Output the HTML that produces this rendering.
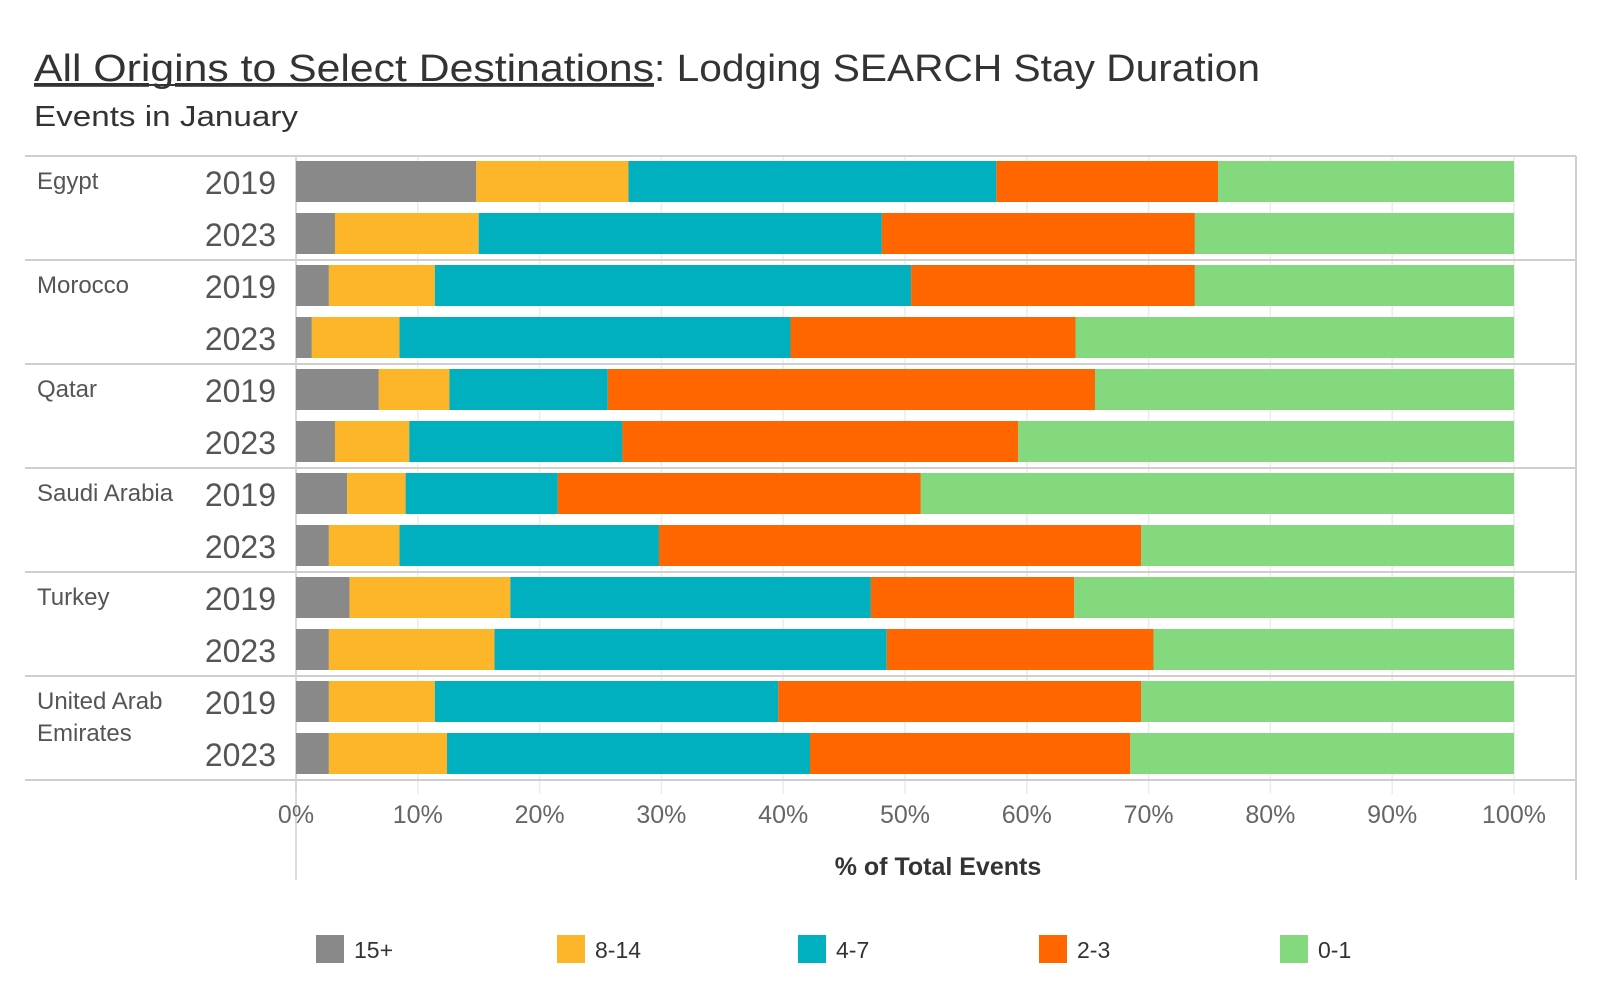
<!DOCTYPE html>
<html><head><meta charset="utf-8"><style>
body{margin:0;background:#fff;}
svg{display:block;font-family:"Liberation Sans",sans-serif;}
</style></head><body>
<svg id="chart" width="1600" height="1000">
<text x="34" y="81" font-size="38" fill="#333"><tspan text-decoration="underline" textLength="620" lengthAdjust="spacingAndGlyphs">All Origins to Select Destinations</tspan><tspan textLength="606" lengthAdjust="spacingAndGlyphs">: Lodging SEARCH Stay Duration</tspan></text>
<line x1="34" y1="85" x2="654" y2="85" stroke="#333" stroke-width="2"/>
<text x="34" y="126" font-size="29" fill="#333" textLength="264" lengthAdjust="spacingAndGlyphs">Events in January</text>
<g id="grid"></g><g id="bars"></g><g id="labels"></g><g id="axis"></g><g id="legend"></g>
</svg>
<script>
const countries = ["Egypt","Morocco","Qatar","Saudi Arabia","Turkey","United Arab Emirates"];
const years = ["2019","2023"];
const seriesNames = ["15+","8-14","4-7","2-3","0-1"];
const s15 = [14.8,3.2, 2.7,1.3, 6.8,3.2, 4.2,2.7, 4.4,2.7, 2.7,2.7];
const s814 = [12.5,11.8, 8.7,7.2, 5.8,6.1, 4.8,5.8, 13.2,13.6, 8.7,9.7];
const s47 = [30.2,33.1, 39.1,32.1, 13.0,17.5, 12.5,21.3, 29.6,32.2, 28.2,29.8];
const s23 = [18.2,25.7, 23.3,23.4, 40.0,32.5, 29.8,39.6, 16.7,21.9, 29.8,26.3];
const s01 = [24.3,26.2, 26.2,36.0, 34.4,40.7, 48.7,30.6, 36.1,29.6, 30.6,31.5];
const ticks = [0,10,20,30,40,50,60,70,80,90,100];
const colors = ["#898989","#FDB52A","#00B0BE","#FF6600","#84D87E"];
const series = [s15,s814,s47,s23,s01];
const NS="http://www.w3.org/2000/svg";
const X0=296, X1=1514, TOP=156, ROW=52.0;
const xs = v => X0 + (X1-X0)*v/100;
function mk(tag, attrs, parent){const e=document.createElementNS(NS,tag);for(const k in attrs)e.setAttribute(k,attrs[k]);parent.appendChild(e);return e;}
const grid=document.getElementById('grid'),bars=document.getElementById('bars'),labels=document.getElementById('labels'),axis=document.getElementById('axis'),legend=document.getElementById('legend');
const BOTTOM = TOP + ROW*countries.length*2;
ticks.forEach(t=>{
  const g=mk('line',{x1:xs(t),x2:xs(t),y1:TOP,y2:BOTTOM+14,stroke:'#ececec','stroke-width':1.5},grid);
  
  
  const tl=mk('text',{x:xs(t),y:823,'font-size':25,fill:'#666','text-anchor':'middle'},axis);
  tl.textContent=t+'%';
  
  
});
for(let i=0;i<=countries.length;i++){
  const y=TOP+i*ROW*2;
  const l=mk('line',{x1:25,x2:1576,y1:y,y2:y,stroke:'#cfcfcf','stroke-width':2},grid);
  
  
}
mk('line',{x1:X0,x2:X0,y1:TOP,y2:880,stroke:'#cfcfcf','stroke-width':1.5},grid);
mk('line',{x1:1576,x2:1576,y1:TOP,y2:880,stroke:'#cfcfcf','stroke-width':2},grid);
countries.forEach((c,ci)=>{
  const gy=TOP+ci*ROW*2;
  const ct=mk('text',{x:37,y:gy+33,'font-size':24,fill:'#555'},labels);
  if(c==="United Arab Emirates"){
    mk('tspan',{x:37},ct).textContent="United Arab";
    mk('tspan',{x:37,dy:32},ct).textContent="Emirates";
  } else ct.textContent=c;
  
  
  years.forEach((yr,yi)=>{
    const idx=ci*2+yi, ry=gy+yi*ROW;
    const yt=mk('text',{x:276,y:ry+38,'font-size':32,fill:'#555','text-anchor':'end'},labels);
    yt.textContent=yr;
    
    
    let cum=0;
    series.forEach((s,si)=>{
      const v=s[idx];
      const r=mk('rect',{x:xs(cum),y:ry+5,width:xs(cum+v)-xs(cum),height:41,fill:colors[si]},bars);
      
      
      cum+=v;
    });
  });
});
const at=mk('text',{x:938,y:875,'font-size':25,fill:'#333','font-weight':'bold','text-anchor':'middle'},axis);
at.textContent="% of Total Events";


seriesNames.forEach((n,i)=>{
  const lx=316+i*241;
  const r=mk('rect',{x:lx,y:935,width:28,height:28,fill:colors[i]},legend);
  
  
  const t=mk('text',{x:lx+38,y:958,'font-size':23,fill:'#333'},legend);
  t.textContent=n;
  
  
});
</script>
</body></html>
